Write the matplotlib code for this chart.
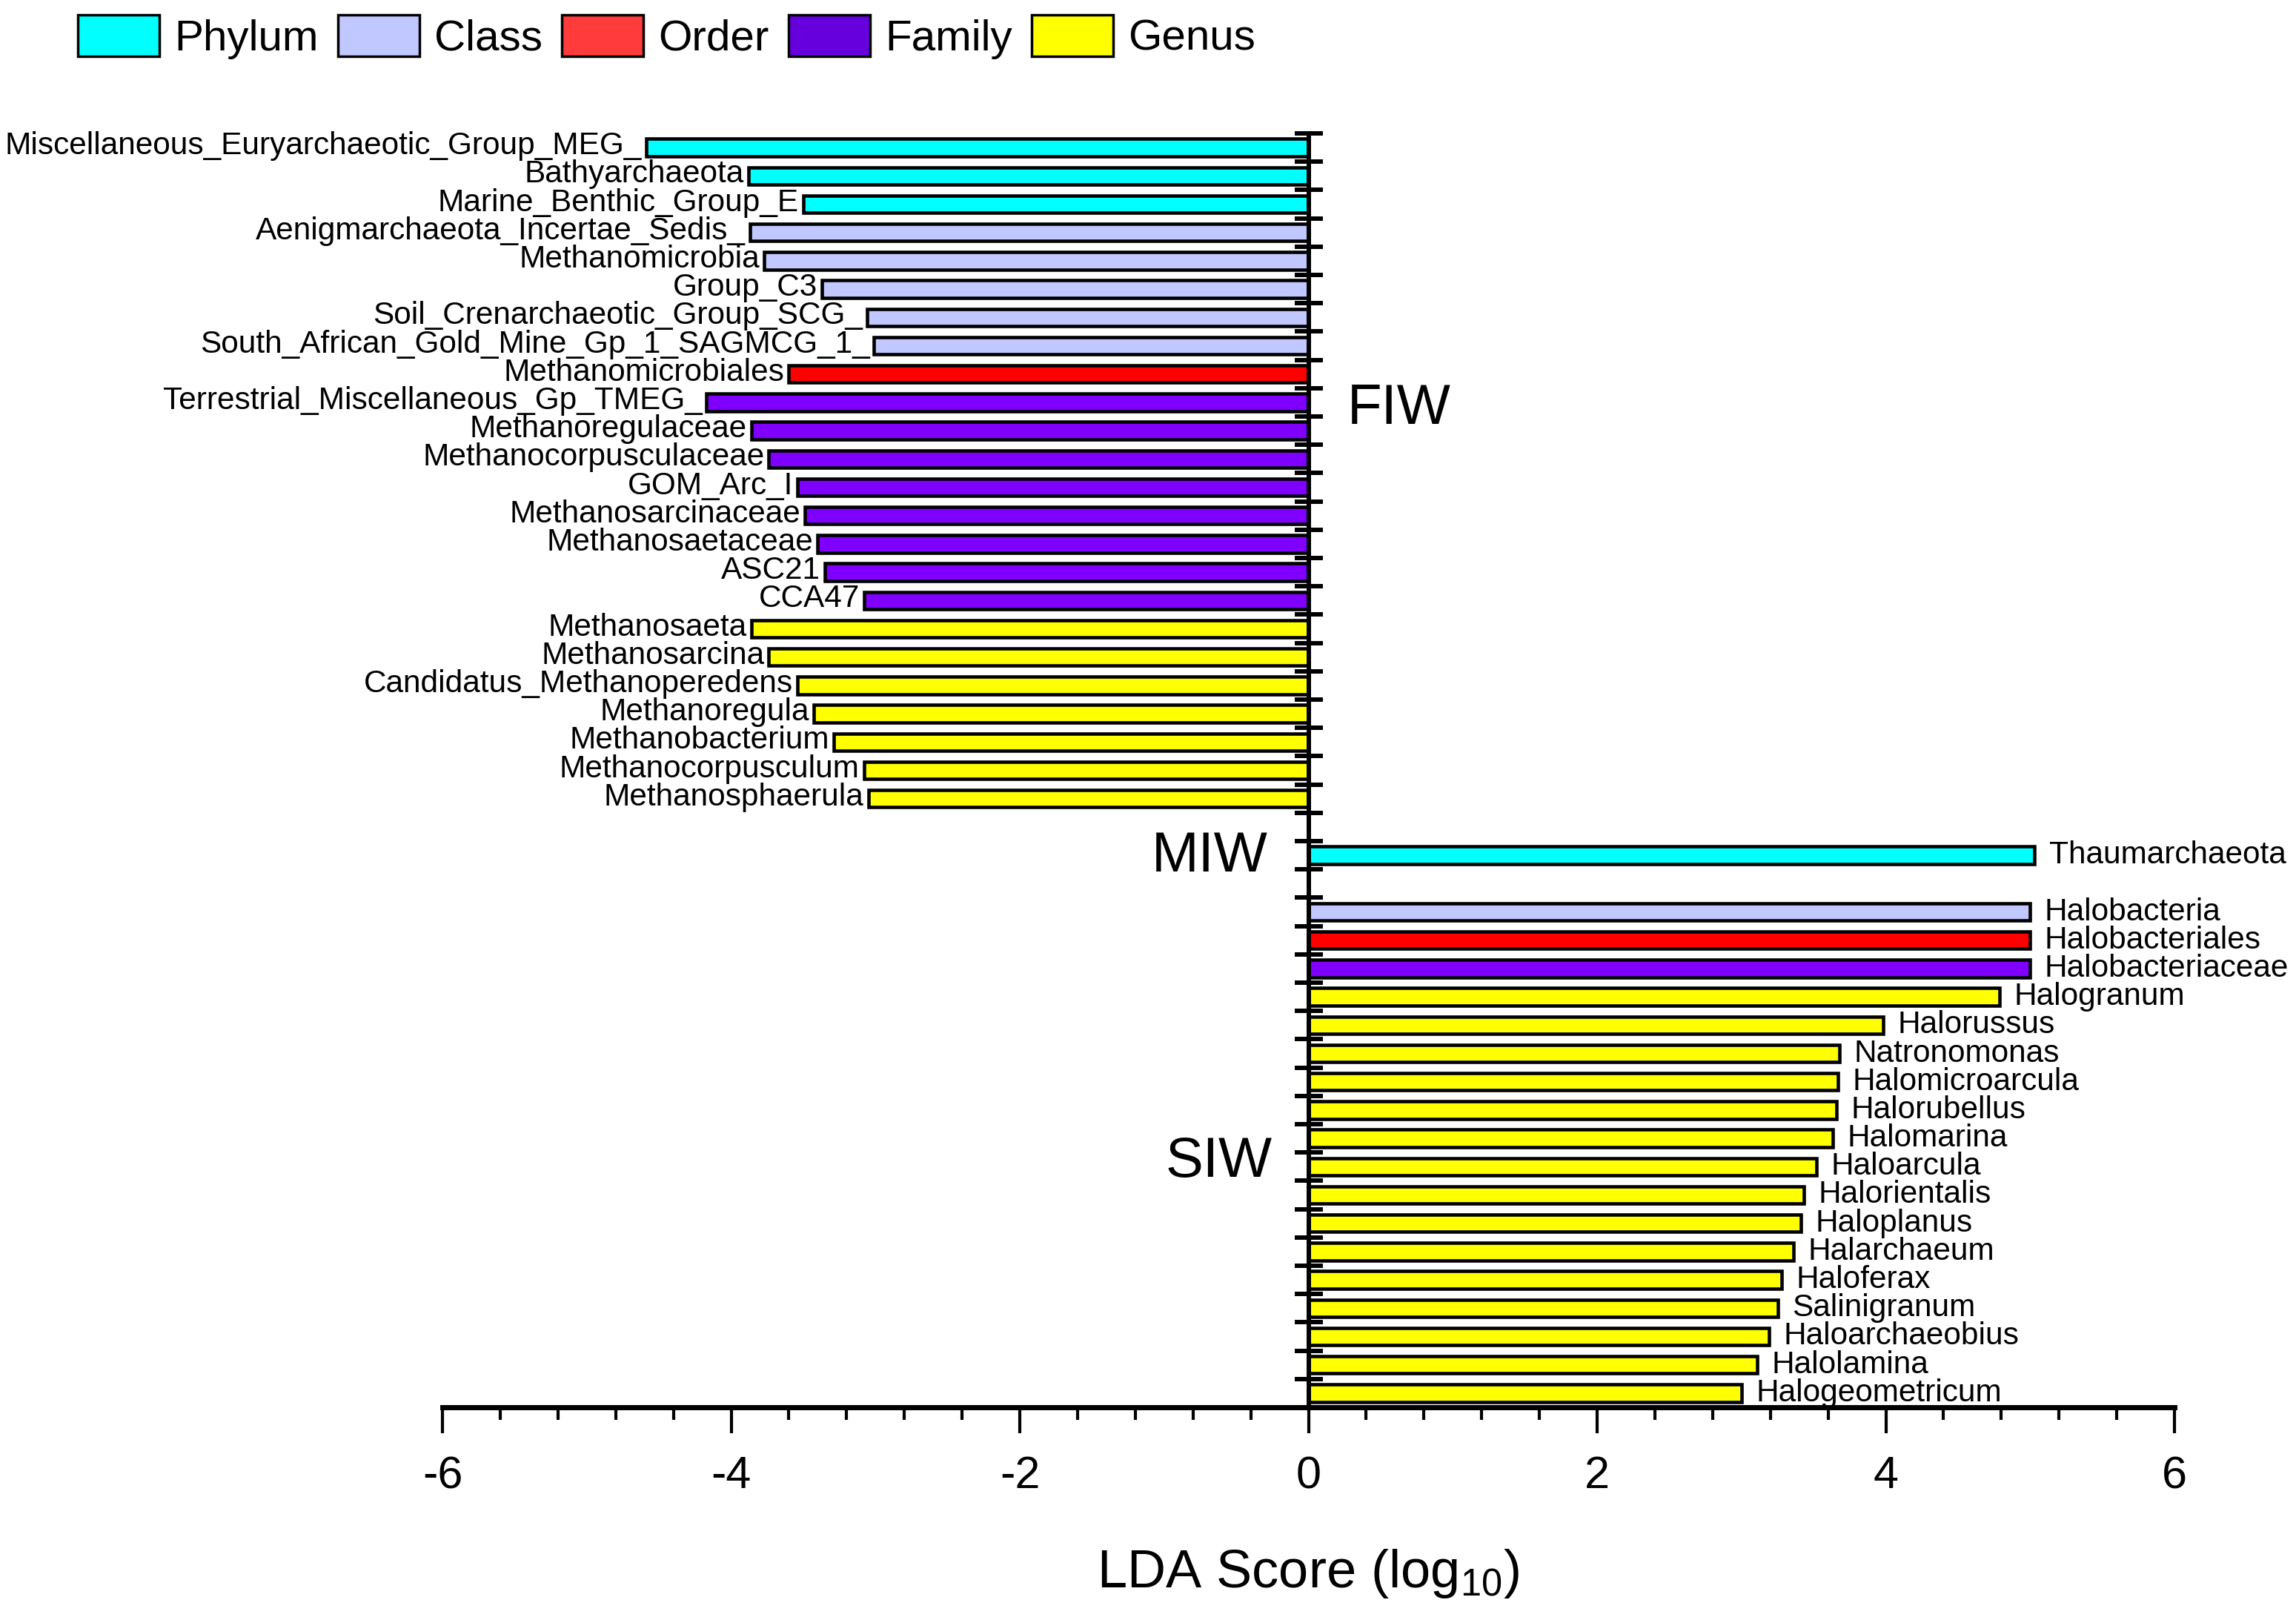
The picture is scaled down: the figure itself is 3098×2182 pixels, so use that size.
import numpy as np
import matplotlib
matplotlib.use("Agg")
import matplotlib.pyplot as plt
from matplotlib.patches import Patch
from matplotlib.ticker import MultipleLocator

plt.rcParams['font.family'] = ['Liberation Sans', 'DejaVu Sans']
plt.rcParams['axes.unicode_minus'] = False
plt.rcParams['mathtext.fontset'] = 'custom'
plt.rcParams['mathtext.rm'] = 'Liberation Sans'
plt.rcParams['mathtext.it'] = 'Liberation Sans:italic'

# ---------------- data ----------------
levels = ["Phylum", "Class", "Order", "Family", "Genus"]
bar_colors = ["#00FFFF", "#C0C8FF", "#FF0000", "#8000FF", "#FFFF00"]
legend_colors = ["#00FFFF", "#C0C8FF", "#FF3B3B", "#6600DD", "#FFFF00"]

fiw_names = ["Miscellaneous_Euryarchaeotic_Group_MEG_", "Bathyarchaeota", "Marine_Benthic_Group_E",
             "Aenigmarchaeota_Incertae_Sedis_", "Methanomicrobia", "Group_C3",
             "Soil_Crenarchaeotic_Group_SCG_", "South_African_Gold_Mine_Gp_1_SAGMCG_1_",
             "Methanomicrobiales", "Terrestrial_Miscellaneous_Gp_TMEG_", "Methanoregulaceae",
             "Methanocorpusculaceae", "GOM_Arc_I", "Methanosarcinaceae", "Methanosaetaceae",
             "ASC21", "CCA47", "Methanosaeta", "Methanosarcina", "Candidatus_Methanoperedens",
             "Methanoregula", "Methanobacterium", "Methanocorpusculum", "Methanosphaerula"]
fiw_values = [-4.59, -3.88, -3.50, -3.87, -3.77, -3.37, -3.06, -3.01, -3.60, -4.17, -3.86,
              -3.74, -3.54, -3.49, -3.40, -3.35, -3.08, -3.86, -3.74, -3.54, -3.43, -3.29,
              -3.08, -3.05]
fiw_levels = ["Phylum"] * 3 + ["Class"] * 5 + ["Order"] + ["Family"] * 8 + ["Genus"] * 7

miw_names = ["Thaumarchaeota"]
miw_values = [5.03]
miw_levels = ["Phylum"]

siw_names = ["Halobacteria", "Halobacteriales", "Halobacteriaceae", "Halogranum", "Halorussus",
             "Natronomonas", "Halomicroarcula", "Halorubellus", "Halomarina", "Haloarcula",
             "Halorientalis", "Haloplanus", "Halarchaeum", "Haloferax", "Salinigranum",
             "Haloarchaeobius", "Halolamina", "Halogeometricum"]
siw_values = [5.00, 5.00, 5.00, 4.79, 3.98, 3.68, 3.67, 3.66, 3.63, 3.52, 3.43, 3.41, 3.36,
              3.28, 3.25, 3.19, 3.11, 3.00]
siw_levels = ["Class", "Order", "Family"] + ["Genus"] * 15

groups = ["FIW", "MIW", "SIW"]
xticks = [-6, -4, -2, 0, 2, 4, 6]

# ---------------- layout ----------------
fig = plt.figure(figsize=(30.98, 21.82), dpi=100)
ax = fig.add_axes([0.1927, 0.1297, 0.7544, 0.7878])

y_fiw = np.arange(len(fiw_names))
y_miw = y_fiw[-1] + 2 + np.arange(len(miw_names))
y_siw = y_miw[-1] + 2 + np.arange(len(siw_names))

cmap = dict(zip(levels, bar_colors))
bar_h = 0.61
for ys, vals, lvls, names in [(y_fiw, fiw_values, fiw_levels, fiw_names),
                              (y_miw, miw_values, miw_levels, miw_names),
                              (y_siw, siw_values, siw_levels, siw_names)]:
    ax.barh(ys, vals, height=bar_h, color=[cmap[l] for l in lvls],
            edgecolor="black", linewidth=3.3, zorder=3)
    for y, v, n in zip(ys, vals, names):
        if v < 0:
            ax.text(v - 0.03, y - 0.05, n, ha="right", va="center", fontsize=30.5, zorder=4)
        else:
            ax.text(v + 0.1, y, n, ha="left", va="center", fontsize=30.5, zorder=4)

# group labels
ax.text(0.27, y_fiw[9] + 0.25, groups[0], ha="left", va="center", fontsize=55)
ax.text(-0.28, y_miw[0] + 0.05, groups[1], ha="right", va="center", fontsize=55)
ax.text(-0.25, y_siw[0] + 8.85, groups[2], ha="right", va="center", fontsize=55)

n_slots = y_siw[-1] + 1
ax.set_xlim(-6, 6)
ax.set_ylim(n_slots - 0.5, -0.5)

ax.spines["top"].set_visible(False)
ax.spines["right"].set_visible(False)
ax.spines["left"].set_position(("data", 0))
ax.spines["left"].set_linewidth(4.3)
ax.spines["left"].set_zorder(3.5)
ax.spines["bottom"].set_linewidth(5.0)
ax.spines["bottom"].set_zorder(3.5)

ax.set_yticks(np.arange(-0.5, n_slots, 1.0))
ax.set_yticklabels([])
ax.tick_params(axis="y", direction="inout", length=28, width=4.3)

ax.set_xticks(xticks)
ax.set_xticklabels([str(t) for t in xticks])
ax.xaxis.set_minor_locator(MultipleLocator(0.4))
ax.tick_params(axis="x", which="major", direction="out", length=25, width=3.0,
               labelsize=44, pad=22)
ax.tick_params(axis="x", which="minor", direction="out", length=12, width=3.0)

ax.set_xlabel(r"LDA Score (log$_{10}$)", fontsize=52)
ax.xaxis.set_label_coords(0.5, -0.11)
ax.xaxis.label.set_va("top")

handles = [Patch(facecolor=c, edgecolor="black", linewidth=2.5, label=l)
           for l, c in zip(levels, legend_colors)]
fig.legend(handles=handles, loc="upper left", bbox_to_anchor=(0.034, 0.991), ncol=5,
           frameon=False, fontsize=42, handlelength=1.88, handleheight=1.12,
           handletextpad=0.35, columnspacing=0.45, borderpad=0, borderaxespad=0)

fig.savefig("out.png", dpi=100)
